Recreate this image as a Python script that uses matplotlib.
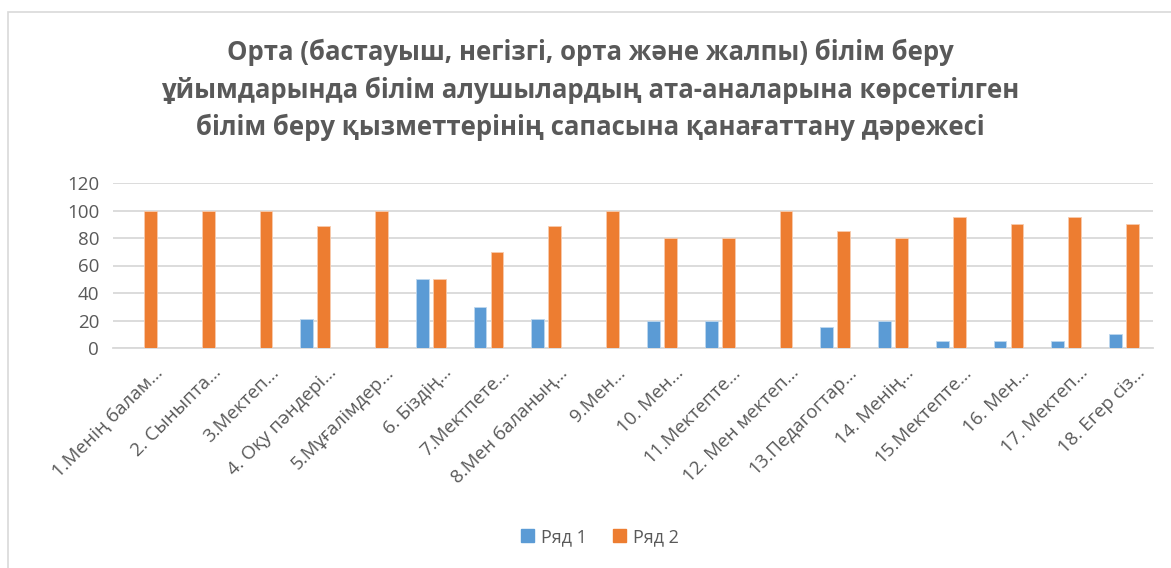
import matplotlib
matplotlib.use("Agg")
import matplotlib.pyplot as plt
import matplotlib.transforms as mtransforms
import numpy as np
from matplotlib.patches import Rectangle, Patch

plt.rcParams['font.family'] = ['Open Sans', 'DejaVu Sans']

categories = ["1.Менің балам…", "2. Сыныпта…", "3.Мектеп…", "4. Оқу пәндері…",
              "5.Мұғалімдер…", "6. Біздің…", "7.Мектпете…", "8.Мен баланың…",
              "9.Мен…", "10. Мен…", "11.Мектепте…", "12. Мен мектеп…",
              "13.Педагогтар…", "14. Менің…", "15.Мектепте…", "16. Мен…",
              "17. Мектеп…", "18. Егер сіз…"]
series1 = [0, 0, 0, 21, 0, 50, 30, 21, 0, 20, 20, 0, 15, 20, 5, 5, 5, 10]
series2 = [100, 100, 100, 89, 100, 50, 70, 89, 100, 80, 80, 100, 85, 80, 95, 90, 95, 90]
series_names = ["Ряд 1", "Ряд 2"]
yticks = [0, 20, 40, 60, 80, 100, 120]
title = ("Орта (бастауыш, негізгі, орта және жалпы) білім беру\n"
         "ұйымдарында білім алушылардың ата-аналарына көрсетілген\n"
         "білім беру қызметтерінің сапасына қанағаттану дәрежесі")

W, H = 1171, 568
fig = plt.figure(figsize=(W / 100, H / 100), dpi=100)
fig.patch.set_facecolor('white')

# chart border
fig.patches.append(Rectangle((8 / W, -0.05), 1.2, 1 - 12 / H + 0.05,
                             transform=fig.transFigure, fill=False,
                             edgecolor='#D9D9D9', linewidth=1.2))

ax = fig.add_axes([113 / W, 1 - 348 / H, (1153 - 113) / W, (348 - 183) / H])
x = np.arange(len(categories))
bw = 0.22
off = 0.147
c1, c2 = '#5B9BD5', '#ED7D31'
ax.bar(x - off, series1, bw, color=c1, edgecolor='#BDD7EE', linewidth=0.6, zorder=3)
ax.bar(x + off, series2, bw, color=c2, edgecolor='#F8CBAD', linewidth=0.6, zorder=3)

ax.set_xlim(-0.5, len(categories) - 0.5)
ax.set_ylim(0, 120)
ax.set_yticks(yticks)
ax.grid(axis='y', color='#D9D9D9', linewidth=1.3, zorder=0)
for s in ['top', 'right', 'left']:
    ax.spines[s].set_visible(False)
ax.spines['bottom'].set_color('#D9D9D9')
ax.spines['bottom'].set_linewidth(1.3)
ax.tick_params(axis='both', length=0, colors='#595959', labelsize=13.5)
ax.tick_params(axis='y', pad=10)
ax.set_xticks(x)
ax.set_xticklabels(categories, rotation=45, ha='right', va='top',
                   rotation_mode='anchor', fontsize=13.5, color='#595959')
ax.tick_params(axis='x', pad=4)
shift = mtransforms.ScaledTranslation(0.12, -0.10, fig.dpi_scale_trans)
for lab in ax.get_xticklabels():
    lab.set_transform(lab.get_transform() + shift)

fig.text(590 / W, 1 - 90 / H, title, ha='center', va='center', fontsize=18.5,
         fontweight='bold', color='#595959', linespacing=1.5)

handles = [Patch(facecolor=c1, edgecolor=c1), Patch(facecolor=c2, edgecolor=c2)]
fig.legend(handles, series_names, loc='center', bbox_to_anchor=(600 / W, 1 - 537 / H),
           ncol=2, frameon=False, fontsize=13, labelcolor='#595959',
           handlelength=0.75, handleheight=0.75, handletextpad=0.4, columnspacing=1.4)

fig.savefig('out.png', dpi=100, facecolor='white')
